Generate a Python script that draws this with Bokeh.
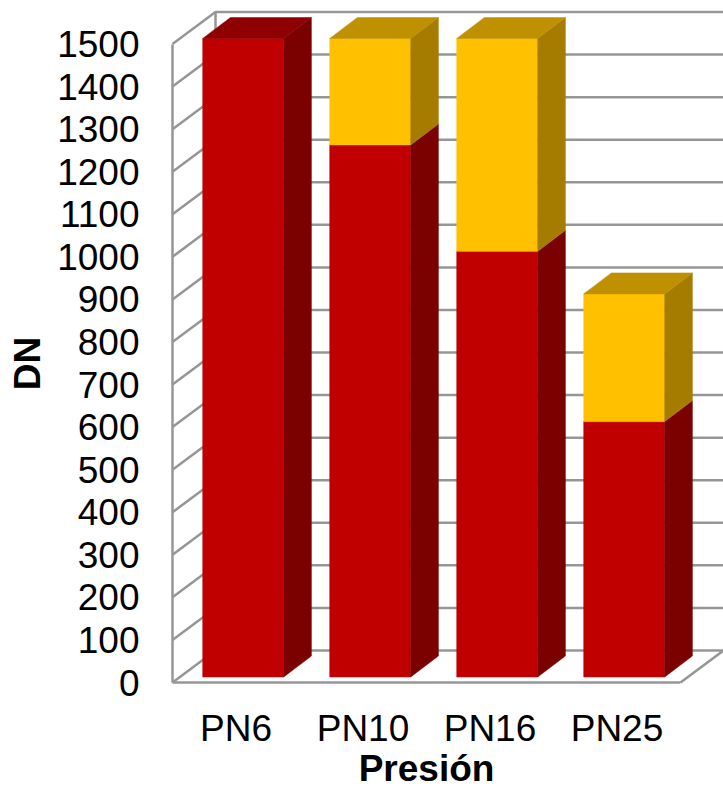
import math
from bokeh.plotting import figure
from bokeh.models import Range1d, FixedTicker
from bokeh.core.properties import value
from bokeh.embed import file_html
from bokeh.resources import INLINE

categories = ["PN6", "PN10", "PN16", "PN25"]
red_values = [1500, 1250, 1000, 600]
yellow_values = [0, 250, 500, 300]
y_ticks = list(range(0, 1600, 100))
x_title = "Presión"
y_title = "DN"

GRID = "#969696"
RED = ("#C00000", "#7B0000", "#8F0000")      # front, side, top
YEL = ("#FFC000", "#A67C00", "#BF9000")
FONT = "Liberation Sans"

PX_X = 127.0       # px per category
PX_Y = 638.5 / 1500  # px per DN
WALL_DX, WALL_DY = 43 / PX_X, 32 / PX_Y
BAR_OFF_X, BAR_OFF_Y = 7.2 / PX_X, 5.5 / PX_Y
BAR_DX, BAR_DY = 27.7 / PX_X, 21 / PX_Y
HALF_W = 40.5 / PX_X

W, H = 723, 792
AX_L, AX_B = 172, 682   # pixel position of the front-plane origin
x0 = -0.5
x_end = x0 + (W - AX_L) / PX_X

p = figure(width=W, height=H, output_backend="svg", toolbar_location=None,
           x_range=Range1d(x0 - AX_L / PX_X, x_end),
           y_range=Range1d(-(H - AX_B) / PX_Y, AX_B / PX_Y),
           min_border_left=0, min_border_right=0,
           min_border_top=0, min_border_bottom=0,
           background_fill_color="white", border_fill_color="white")
p.outline_line_color = None
p.grid.visible = False

# y axis
p.yaxis.fixed_location = x0
p.yaxis.bounds = (0, 1500)
p.yaxis.ticker = FixedTicker(ticks=y_ticks)
p.yaxis.axis_line_color = GRID
p.yaxis.axis_line_width = 2.5
p.yaxis.major_tick_line_color = None
p.yaxis.minor_tick_line_color = None
p.yaxis.major_tick_out = 0
p.yaxis.major_label_standoff = 33
p.yaxis.major_label_text_font = FONT
p.yaxis.major_label_text_font_size = "37px"
p.yaxis.major_label_text_color = "black"

# x axis
p.xaxis.fixed_location = 0
p.xaxis.bounds = (-0.5, 3.5)
p.xaxis.ticker = FixedTicker(ticks=list(range(len(categories))))
p.xaxis.major_label_overrides = {i: c for i, c in enumerate(categories)}
p.xaxis.axis_line_color = GRID
p.xaxis.axis_line_width = 2.5
p.xaxis.major_tick_line_color = None
p.xaxis.minor_tick_line_color = None
p.xaxis.major_tick_out = 0
p.xaxis.major_label_standoff = 25
p.xaxis.major_label_text_font = FONT
p.xaxis.major_label_text_font_size = "37px"
p.xaxis.major_label_text_color = "black"

# axis titles
p.text(x=[1.5], y=[-86 / PX_Y], text=[x_title], text_font=value(FONT),
       text_font_size="37px", text_font_style="bold", text_color="black",
       text_align="center", text_baseline="alphabetic")
p.text(x=[x0 + (27 - AX_L) / PX_X], y=[(AX_B - 363) / PX_Y], text=[y_title],
       angle=math.pi / 2, text_font=value(FONT),
       text_font_size="37px", text_font_style="bold", text_color="black",
       text_align="center", text_baseline="alphabetic")

# walls: left-wall diagonals and back-wall horizontals
xs, ys = [], []
for t in y_ticks:
    xs.append([x0, x0 + WALL_DX, x_end])
    ys.append([t, t + WALL_DY, t + WALL_DY])
xs.append([x0 + WALL_DX, x0 + WALL_DX])
ys.append([WALL_DY, 1500 + WALL_DY])
xs.append([3.5, 3.5 + WALL_DX])
ys.append([0, WALL_DY])
p.multi_line(xs, ys, line_color=GRID, line_width=2.5)


def bar(i, lo, hi, cols, show_top):
    left = i + BAR_OFF_X - HALF_W
    right = i + BAR_OFF_X + HALF_W
    b, t = lo + BAR_OFF_Y, hi + BAR_OFF_Y
    p.quad(left=left, right=right, bottom=b, top=t,
           fill_color=cols[0], line_color=cols[0], line_width=0.5)
    p.patch([right, right + BAR_DX, right + BAR_DX, right],
            [b, b + BAR_DY, t + BAR_DY, t],
            fill_color=cols[1], line_color=cols[1], line_width=0.5)
    if show_top:
        p.patch([left, right, right + BAR_DX, left + BAR_DX],
                [t, t, t + BAR_DY, t + BAR_DY],
                fill_color=cols[2], line_color=cols[2], line_width=0.5)


for i, (r, y) in enumerate(zip(red_values, yellow_values)):
    bar(i, 0, r, RED, y == 0)
    if y:
        bar(i, r, r + y, YEL, True)

open("out.html", "w").write(file_html(p, INLINE))
